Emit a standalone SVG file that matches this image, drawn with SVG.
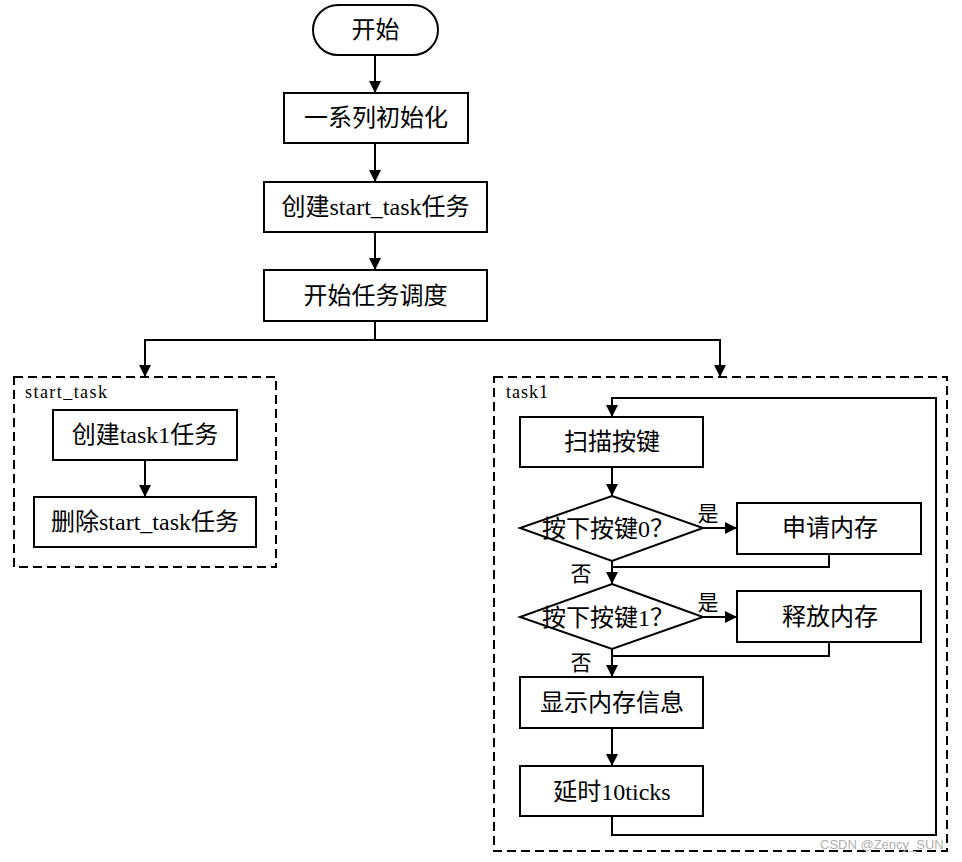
<svg xmlns="http://www.w3.org/2000/svg" width="962" height="862" viewBox="0 0 962 862">
<defs>
<marker id="arr" markerUnits="userSpaceOnUse" markerWidth="12" markerHeight="12" viewBox="0 0 12 12" refX="12" refY="6" orient="auto">
<path d="M0,0 L12,6 L0,12 Z" fill="#000"/>
</marker>
</defs>
<style>
.box{fill:#fff;stroke:#000;stroke-width:2}
.dash{fill:none;stroke:#000;stroke-width:2;stroke-dasharray:9,5}
.ln{fill:none;stroke:#000;stroke-width:2}
.ar{fill:none;stroke:#000;stroke-width:2;marker-end:url(#arr)}
.t{font-family:"Liberation Serif","Noto Sans CJK SC",serif;font-size:24px;fill:#000;text-anchor:middle}
.s{font-family:"Liberation Serif","Noto Sans CJK SC",serif;font-size:18px;fill:#000}
.l{font-family:"Liberation Serif","Noto Sans CJK SC",serif;font-size:21px;fill:#000;text-anchor:middle}
.wm{font-family:"Liberation Sans",sans-serif;font-size:13px;fill:#b0b0b0}
</style>
<rect width="962" height="862" fill="#fff"/>

<g id="containers">
<rect class="dash" x="14" y="377" width="262" height="190"/>
<text class="s" x="25" y="398" textLength="82" lengthAdjust="spacing">start_task</text>
<rect class="dash" x="494" y="377" width="453" height="474"/>
<text class="s" x="506" y="398" textLength="42" lengthAdjust="spacing">task1</text>
</g>

<g id="connectors">
<line class="ar" x1="375" y1="55" x2="375" y2="93"/>
<line class="ar" x1="375" y1="143" x2="375" y2="182"/>
<line class="ar" x1="375" y1="232" x2="375" y2="270"/>
<polyline class="ln" points="375,321 375,340"/>
<polyline class="ar" points="375,340 145,340 145,377"/>
<polyline class="ar" points="375,340 720,340 720,377"/>
<line class="ar" x1="145" y1="460" x2="145" y2="497"/>
<polyline class="ar" points="612,816 612,835 936,835 936,398 612,398 612,417"/>
<line class="ar" x1="612" y1="467" x2="612" y2="496"/>
<line class="ar" x1="703" y1="528" x2="737" y2="528"/>
<polyline class="ln" points="829,554 829,567 612,567"/>
<line class="ar" x1="612" y1="561" x2="612" y2="584"/>
<line class="ar" x1="703" y1="617" x2="737" y2="617"/>
<polyline class="ln" points="829,642 829,656 612,656"/>
<line class="ar" x1="612" y1="649" x2="612" y2="677"/>
<line class="ar" x1="612" y1="728" x2="612" y2="766"/>
<text class="l" x="708" y="521">是</text>
<text class="l" x="581" y="581">否</text>
<text class="l" x="708" y="610">是</text>
<text class="l" x="581" y="670">否</text>
</g>

<g id="start">
<rect class="box" x="313" y="5" width="125" height="50" rx="25" ry="25"/>
<text class="t" x="375.5" y="38">开始</text>
</g>
<g id="init">
<rect class="box" x="284" y="93" width="184" height="50"/>
<text class="t" x="376" y="126">一系列初始化</text>
</g>
<g id="create_start_task">
<rect class="box" x="264" y="182" width="223" height="50"/>
<text class="t" x="375.5" y="215">创建start_task任务</text>
</g>
<g id="schedule">
<rect class="box" x="264" y="270" width="223" height="51"/>
<text class="t" x="375.5" y="304">开始任务调度</text>
</g>
<g id="create_task1">
<rect class="box" x="53" y="410" width="184" height="50"/>
<text class="t" x="145" y="443">创建task1任务</text>
</g>
<g id="delete_start_task">
<rect class="box" x="34" y="497" width="222" height="50"/>
<text class="t" x="145" y="530">删除start_task任务</text>
</g>
<g id="scan">
<rect class="box" x="520" y="417" width="183" height="50"/>
<text class="t" x="612" y="450">扫描按键</text>
</g>
<g id="key0">
<polygon class="box" points="612,496 703,528 612,561 520,528"/>
<text class="t" x="608" y="537">按下按键0？</text>
</g>
<g id="alloc">
<rect class="box" x="737" y="503" width="184" height="51"/>
<text class="t" x="830" y="536">申请内存</text>
</g>
<g id="key1">
<polygon class="box" points="612,584 703,617 612,649 520,617"/>
<text class="t" x="608" y="626">按下按键1？</text>
</g>
<g id="free">
<rect class="box" x="737" y="591" width="184" height="51"/>
<text class="t" x="830" y="625">释放内存</text>
</g>
<g id="show">
<rect class="box" x="520" y="677" width="183" height="51"/>
<text class="t" x="612" y="711">显示内存信息</text>
</g>
<g id="delay">
<rect class="box" x="520" y="766" width="183" height="50"/>
<text class="t" x="612" y="800">延时10ticks</text>
</g>
<text class="wm" x="820" y="849">CSDN @Zency_SUN</text>
</svg>
